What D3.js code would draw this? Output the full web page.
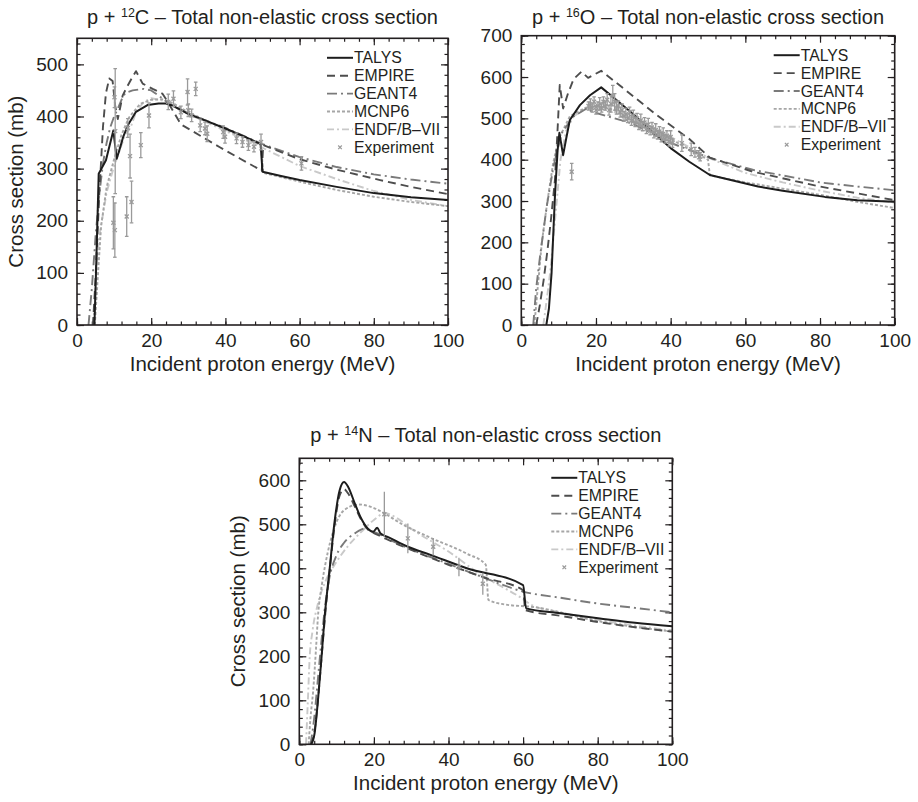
<!DOCTYPE html>
<html><head><meta charset="utf-8">
<script src="https://cdn.jsdelivr.net/npm/d3@7"></script>
<style>
body{margin:0;background:#fff}
svg text{font-family:"Liberation Sans",Arial,sans-serif;fill:#231f20}
</style>
</head><body>
<svg id="chart" width="918" height="802"></svg>
<script>
// ---------- shared labels ----------
const seriesNames = ["TALYS","EMPIRE","GEANT4","MCNP6","ENDF/B\u2013VII"];
const expLabel = "Experiment";
const xTicks = [0,20,40,60,80,100];
const xMinorTicks = d3.range(0,101,4);
const xTitle = "Incident proton energy (MeV)";
const yTitle = "Cross section (mb)";

// ---------- p + 12C ----------
const c12Ticks = [0,100,200,300,400,500];
const c12Talys = [[4.7,0],[5.2,120],[5.85,290],[7.8,316],[9.8,373],[10.7,319],[11.4,335],[12.5,362],[13.7,383],[15.9,409],[19,422],[22,425],[24,425],[26,420],[30,405],[35,391],[40,377],[45,362],[49.5,347],[50,294],[55,286],[60,278],[70,265],[80,253],[90,245],[100,240]];
const c12Empire = [[4.3,0],[5,90],[6,250],[7,380],[7.8,445],[8.7,473],[9.6,468],[10.3,420],[11,395],[12.3,440],[13.2,453],[14.5,470],[15.9,487],[17.7,463],[20.4,453],[23,444],[24.2,431],[28,385],[33,364],[38.5,341],[44,319],[49.8,296],[50.2,345],[60,318],[70,298],[81.7,278],[90,265],[100,251]];
const c12Geant4 = [[3.1,0],[4,70],[5,170],[6,250],[7,310],[8,350],[9,380],[10,400],[11,415],[12,432],[13,445],[15,450],[18,453],[20,450],[22,440],[25,424],[30,405],[40,378],[50,347],[60,322],[70,303],[80,289],[90,279],[100,271]];
const c12Mcnp6 = [[4.8,0],[5.5,80],[6.5,190],[8,265],[10,318],[12,365],[14,398],[17,424],[20,432],[23,433],[26,425],[30,408],[40,375],[49.6,345],[50.2,292],[60,275],[70,259],[80,246],[90,236],[100,228]];
const c12Endf = [[4.4,0],[5.2,100],[6,170],[8,255],[10,305],[11,325],[13,365],[14.5,380],[16,410],[18,428],[20,435],[25,428],[30,405],[40,372],[50,340],[60,305],[70,280],[80,257],[90,240],[100,228]];
// [energy, cross section, error]
const c12Exp = [[9.8,196,50],[10.2,182,52],[10.3,372,120],[10.1,437,20],[13.4,208,38],[14.7,236,40],[14.3,324,42],[13.7,378,18],[17.2,345,24],[19.4,402,24],[24.6,428,15],[26,434,15],[28,408,12],[29.8,447,25],[30,412,12],[30.9,402,12],[32,453,13],[33.2,383,12],[34.5,377,12],[35.1,367,15],[39.4,370,12],[39.9,361,12],[43,358,10],[44.6,351,10],[46.2,345,10],[47.7,342,10],[49.6,351,15],[60.5,310,13]];

// ---------- p + 16O ----------
const o16Ticks = [0,100,200,300,400,500,600,700];
const o16Talys = [[6.7,0],[7.4,40],[8.1,125],[9.0,310],[9.7,420],[10.2,465],[11.2,411],[12,450],[13,496],[15.7,532],[18.4,556],[21.4,575],[25,548],[30,510],[35,468],[40,428],[45,395],[50.5,363],[63.4,335],[70,325],[81.3,310],[90,302],[100,298]];
const o16Empire = [[4,0],[5,50],[6,110],[7,180],[8,260],[9,350],[9.7,470],[10.3,581],[11.2,524],[12.5,560],[14,595],[16.1,613],[17.9,598],[21.4,615],[27,575],[36,510],[45,450],[50.5,405],[62,371],[80,335],[100,302]];
const o16Geant4 = [[3.2,0],[4,90],[5,165],[6.8,286],[8.6,383],[10.8,464],[13.9,504],[17.5,524],[19,516],[29.5,488],[40.2,440],[50.9,403],[62.2,375],[70,362],[80,345],[90,335],[100,326]];
const o16Mcnp6 = [[3.5,0],[4.5,100],[5.5,200],[7,300],[8.5,390],[10,450],[13,505],[17,525],[20,530],[25,520],[30,493],[35,470],[40,450],[45,425],[50,400],[50.5,362],[60,345],[70,330],[80,315],[90,298],[100,283]];
const o16Endf = [[5.9,0],[6.8,60],[7.7,125],[8.6,210],[9.5,300],[10.5,400],[12,470],[14,505],[17,522],[20,526],[25,515],[30,495],[40,455],[50,405],[60,368],[70,345],[80,325],[90,308],[100,296]];
const o16Exp = [[13.5,371,20],[18,530,10],[18.5,535,12],[19,525,10],[19.5,540,12],[20,520,10],[20.5,530,10],[21,535,15],[21.5,525,10],[22,540,12],[22.5,530,10],[23,545,15],[23.5,520,12],[24,535,20],[24.5,555,25],[25,540,20],[25.5,525,15],[26,530,12],[26.5,515,12],[27,520,15],[27.5,505,12],[28,510,15],[28.5,500,10],[29,515,12],[29.5,495,12],[30,505,15],[30.5,490,10],[31,500,12],[31.5,485,12],[32,495,15],[32.5,480,10],[33,490,12],[33.5,475,12],[34,485,15],[34.5,470,10],[35,478,12],[35.5,465,12],[36,472,15],[36.5,460,10],[37,468,12],[37.5,455,12],[38,462,15],[38.5,450,10],[39,458,12],[39.5,445,12],[40,455,15],[40.5,440,10],[43,440,20],[45.5,425,15],[46.5,418,12],[47.5,412,10],[47.9,407,10]];

// ---------- p + 14N ----------
const n14Ticks = [0,100,200,300,400,500,600];
const n14Talys = [[3.2,0],[4.1,25],[5.0,100],[5.9,191],[6.8,290],[8.1,396],[9.5,509],[10.8,577],[12,596],[13.1,585],[14.9,547],[16.6,513],[18.4,490],[19.8,483],[20.9,492],[21.8,479],[23.8,471],[29.1,449],[35,431],[44.9,400],[60,362],[60.8,309],[70,298],[80.6,286],[90,276],[100,268]];
const n14Empire = [[3,0],[4,25],[5,100],[6,200],[7,300],[8.2,400],[9.5,500],[10.8,565],[12,580],[13.1,570],[14.9,540],[16.6,510],[18.4,488],[20,480],[22,472],[25,460],[30,442],[40,408],[50,378],[60,350],[60.6,305],[70,292],[80,278],[90,266],[100,256]];
const n14Geant4 = [[3,0],[4,60],[5,150],[6,240],[7,320],[8,375],[10,430],[12,458],[15,480],[17.5,490],[20,483],[25,462],[30,443],[40,410],[50,377],[60,347],[70,333],[80,320],[90,310],[100,300]];
const n14Mcnp6 = [[2.5,0],[3,60],[3.7,120],[4.5,220],[5,290],[6,360],[7,410],[9.5,494],[12,532],[16,545],[20,537],[23,524],[27,503],[35,470],[45,433],[50,408],[50.7,328],[55,318],[62.7,312],[80,280],[100,256]];
const n14Endf = [[1.8,0],[2.3,100],[2.8,200],[3.5,255],[5,320],[7,370],[10,415],[13,450],[17,486],[20,510],[23,525],[26,515],[30,490],[40,438],[50,378],[55,355],[60,330],[62,318],[70,300],[80,283],[90,270],[100,258]];
const n14Exp = [[22.8,523,51],[29.1,468,34],[35.9,449,20],[42.8,403,21],[49.2,365,25]];

// ---------- styling ----------
const seriesStyle = [
  {color:"#1d1d1d", dash:null, w:2.0},
  {color:"#4d4d4d", dash:"8,5", w:1.9},
  {color:"#7a7a7a", dash:"10,4,2,4", w:1.9},
  {color:"#a6a6a6", dash:"3,2", w:1.9},
  {color:"#c9c9c9", dash:"7,3,2,3", w:1.9}
];
const expColor = "#9a9a9a";
const FONT = "Liberation Sans";

const svg = d3.select("#chart");

const panels = [
  {id:"c", left:77, right:448, top:38.3, bottom:325, ymax:550, yTicks:c12Ticks,
   series:[c12Talys,c12Empire,c12Geant4,c12Mcnp6,c12Endf], exp:c12Exp, caps:true,
   nucl:["12","C"], titleY:24, showYTitle:true, curve:d3.curveLinear},
  {id:"o", left:521.3, right:894.7, top:35.7, bottom:325, ymax:700, yTicks:o16Ticks,
   series:[o16Talys,o16Empire,o16Geant4,o16Mcnp6,o16Endf], exp:o16Exp, caps:true,
   nucl:["16","O"], titleY:24, showYTitle:false, curve:d3.curveLinear},
  {id:"n", left:299.3, right:672.3, top:458.3, bottom:744.3, ymax:650, yTicks:n14Ticks,
   series:[n14Talys,n14Empire,n14Geant4,n14Mcnp6,n14Endf], exp:n14Exp, caps:false,
   nucl:["14","N"], titleY:442, showYTitle:true, curve:d3.curveMonotoneX}
];

function styleAxis(g, size){
  g.select(".domain").remove();
  g.selectAll(".tick line").attr("stroke","#231f20").attr("stroke-width",1.2);
  if(size===0){ g.selectAll("text").remove(); }
  else g.selectAll("text").attr("font-family",FONT).attr("font-size",size).attr("fill","#231f20");
}

panels.forEach(p=>{
  const x = d3.scaleLinear().domain([0,100]).range([p.left,p.right]);
  const y = d3.scaleLinear().domain([0,p.ymax]).range([p.bottom,p.top]);
  const g = svg.append("g");

  svg.append("clipPath").attr("id","clip-"+p.id).append("rect")
    .attr("x",p.left).attr("y",p.top).attr("width",p.right-p.left).attr("height",p.bottom-p.top);

  const yMinor = d3.range(0,p.ymax+1,20);
  // minor ticks
  g.append("g").attr("transform",`translate(0,${p.bottom})`).call(d3.axisBottom(x).tickValues(xMinorTicks).tickSize(-3.5).tickFormat("")).call(a=>styleAxis(a,0));
  g.append("g").attr("transform",`translate(0,${p.top})`).call(d3.axisTop(x).tickValues(xMinorTicks).tickSize(-3.5).tickFormat("")).call(a=>styleAxis(a,0));
  g.append("g").attr("transform",`translate(${p.left},0)`).call(d3.axisLeft(y).tickValues(yMinor).tickSize(-3.5).tickFormat("")).call(a=>styleAxis(a,0));
  g.append("g").attr("transform",`translate(${p.right},0)`).call(d3.axisRight(y).tickValues(yMinor).tickSize(-3.5).tickFormat("")).call(a=>styleAxis(a,0));
  // major ticks
  g.append("g").attr("transform",`translate(0,${p.bottom})`).call(d3.axisBottom(x).tickValues(xTicks).tickSize(-7).tickPadding(8.5).tickFormat(d3.format("d"))).call(a=>styleAxis(a,19));
  g.append("g").attr("transform",`translate(0,${p.top})`).call(d3.axisTop(x).tickValues(xTicks).tickSize(-7).tickFormat("")).call(a=>styleAxis(a,0));
  g.append("g").attr("transform",`translate(${p.left},0)`).call(d3.axisLeft(y).tickValues(p.yTicks).tickSize(-7).tickPadding(9).tickFormat(d3.format("d"))).call(a=>styleAxis(a,19));
  g.append("g").attr("transform",`translate(${p.right},0)`).call(d3.axisRight(y).tickValues(p.yTicks).tickSize(-7).tickFormat("")).call(a=>styleAxis(a,0));

  // curves (draw lighter first)
  const line = d3.line().x(d=>x(d[0])).y(d=>y(d[1])).curve(p.curve);
  const plot = g.append("g").attr("clip-path",`url(#clip-${p.id})`);
  [4,3,2,1,0].forEach(i=>{
    const s = seriesStyle[i];
    plot.append("path").datum(p.series[i]).attr("d",line)
      .attr("fill","none").attr("stroke",s.color).attr("stroke-width",s.w)
      .attr("stroke-dasharray",s.dash).attr("stroke-linejoin","round");
  });

  // experiment points
  const eg = plot.append("g").attr("stroke",expColor).attr("stroke-width",1.3).attr("fill","none");
  p.exp.forEach(d=>{
    const cx = x(d[0]), cy = y(d[1]), y1 = y(d[1]+d[2]), y2 = y(d[1]-d[2]);
    eg.append("line").attr("x1",cx).attr("x2",cx).attr("y1",y1).attr("y2",y2);
    if(p.caps){
      eg.append("line").attr("x1",cx-1.8).attr("x2",cx+1.8).attr("y1",y1).attr("y2",y1);
      eg.append("line").attr("x1",cx-1.8).attr("x2",cx+1.8).attr("y1",y2).attr("y2",y2);
    }
    eg.append("path").attr("d",`M${cx-2},${cy-2}L${cx+2},${cy+2}M${cx-2},${cy+2}L${cx+2},${cy-2}`);
  });

  // frame
  g.append("rect").attr("x",p.left).attr("y",p.top).attr("width",p.right-p.left).attr("height",p.bottom-p.top)
    .attr("fill","none").attr("stroke","#231f20").attr("stroke-width",1.6);

  // legend
  const lx = p.right-121, ly0 = p.top+19.5, dy = 17.9, lfs = 15.8;
  const lg = g.append("g");
  seriesNames.forEach((name,i)=>{
    const s = seriesStyle[i], yy = ly0+i*dy;
    lg.append("line").attr("x1",lx).attr("x2",lx+26).attr("y1",yy).attr("y2",yy)
      .attr("stroke",s.color).attr("stroke-width",s.w).attr("stroke-dasharray",s.dash);
    lg.append("text").attr("x",lx+27).attr("y",yy).attr("dy","0.35em").attr("font-size",lfs).text(name);
  });
  const ey = ly0+5*dy, ex = lx+13;
  lg.append("path").attr("d",`M${ex-1.8},${ey-1.8}L${ex+1.8},${ey+1.8}M${ex-1.8},${ey+1.8}L${ex+1.8},${ey-1.8}`)
    .attr("stroke",expColor).attr("stroke-width",1.2);
  lg.append("text").attr("x",lx+27).attr("y",ey).attr("dy","0.35em").attr("font-size",lfs).text(expLabel);

  // titles
  const cx = (p.left+p.right)/2;
  const t = g.append("text").attr("x",cx).attr("y",p.titleY).attr("text-anchor","middle").attr("font-size",20);
  t.append("tspan").text("p + ");
  t.append("tspan").attr("font-size",12.5).attr("dy",-7.5).text(p.nucl[0]);
  t.append("tspan").attr("dy",7.5).text(p.nucl[1]+" \u2013 Total non-elastic cross section");

  g.append("text").attr("x",cx).attr("y",p.bottom+46).attr("text-anchor","middle").attr("font-size",20.5).text(xTitle);
  if(p.showYTitle){
    const yc = (p.top+p.bottom)/2;
    g.append("text").attr("transform",`translate(${p.left-54},${yc}) rotate(-90)`)
      .attr("text-anchor","middle").attr("font-size",20.5).text(yTitle);
  }
});
</script>
</body></html>
